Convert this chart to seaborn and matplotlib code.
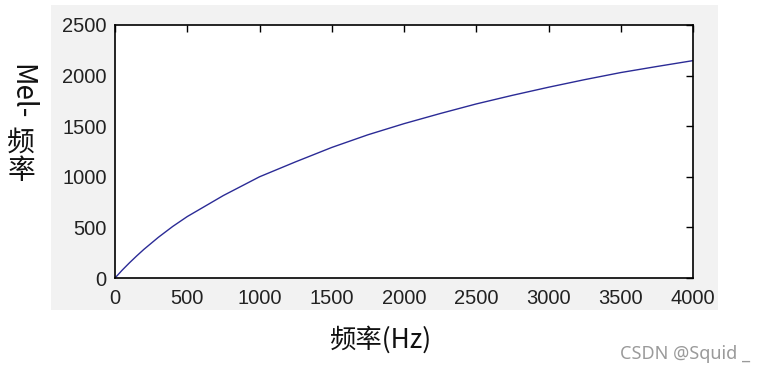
import numpy as np
import pandas as pd
import seaborn as sns
import matplotlib.pyplot as plt
from matplotlib.patches import Rectangle

# values
freq_hz = [0, 50, 100, 150, 200, 300, 400, 500, 750, 1000, 1250, 1500, 1750,
           2000, 2250, 2500, 2750, 3000, 3250, 3500, 3750, 4000]
mel_freq = [0, 78, 150, 218, 283, 402, 510, 607, 815, 1000, 1148, 1290, 1415,
            1525, 1625, 1720, 1805, 1885, 1960, 2030, 2090, 2148]
x_ticks = [0, 500, 1000, 1500, 2000, 2500, 3000, 3500, 4000]
y_ticks = [0, 500, 1000, 1500, 2000, 2500]

W, H = 767, 374

sns.set_style('white')
plt.rcParams['font.family'] = ['Noto Sans CJK SC', 'DejaVu Sans']

fig = plt.figure(figsize=(W / 100, H / 100), dpi=100)
fig.patch.set_facecolor('white')

# light grey matlab figure panel, kept behind the axes
fig.patches.append(Rectangle((51 / W, 1 - 310 / H), 667 / W, 305 / H,
                             transform=fig.transFigure, facecolor='#f2f2f2',
                             edgecolor='none', zorder=-5))

ax = fig.add_axes([115 / W, 1 - 278 / H, 578 / W, 253 / H])
ax.set_facecolor('white')
df = pd.DataFrame({'f': freq_hz, 'mel': mel_freq})
sns.lineplot(data=df, x='f', y='mel', ax=ax, color='#2b2b96', linewidth=1.0)

ax.set_xlim(0, 4000)
ax.set_ylim(0, 2500)
ax.set_xticks(x_ticks)
ax.set_yticks(y_ticks)
ax.set_xlabel('')
ax.set_ylabel('')
ax.tick_params(direction='in', top=True, right=True, length=5, width=1,
               color='black', labelsize=14.5, labelcolor='#222222')
ax.tick_params(axis='x', pad=8)
ax.tick_params(axis='y', pad=6)
for lab in ax.get_xticklabels() + ax.get_yticklabels():
    lab.set_family('Liberation Sans')
for s in ax.spines.values():
    s.set_color('black')
    s.set_linewidth(1.2)

# vertical y label: latin part rotated, chinese characters upright
fig.text(21 / W, 1 - 64 / H, 'Mel-', rotation=-90, fontsize=20,
         ha='center', va='top', color='#111111')
fig.text(21 / W, 1 - 143 / H, '频', fontsize=20, ha='center', va='center',
         color='#111111')
fig.text(21 / W, 1 - 171 / H, '率', fontsize=20, ha='center', va='center',
         color='#111111')

fig.text(380 / W, 1 - 340 / H, '频率(Hz)', fontsize=19, ha='center',
         va='center', color='#111111')
fig.text(750 / W, 1 - 354 / H, 'CSDN @Squid _', fontsize=13, ha='right',
         va='center', color='#9a9a9a', family=['Noto Sans', 'DejaVu Sans'])

fig.savefig('out.png', dpi=100)
